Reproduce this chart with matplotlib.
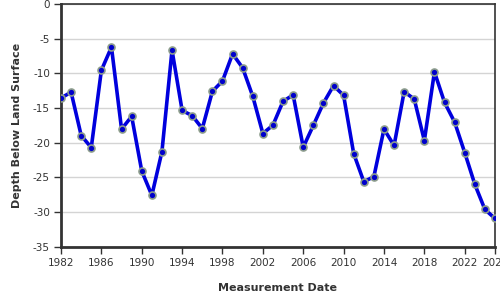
import matplotlib
matplotlib.use("Agg")
import matplotlib.pyplot as plt

# yearly measurements, depth below land surface
years = list(range(1982, 2026))
depth = [-13.55, -12.7, -18.96, -20.7, -9.54, -6.2, -18.04, -16.2, -24.08, -27.6,
         -21.3, -6.64, -15.34, -16.1, -17.95, -12.58, -11.09, -7.17, -9.2, -13.3,
         -18.67, -17.46, -14.03, -13.1, -20.65, -17.5, -14.28, -11.76, -13.16, -21.57,
         -25.63, -24.9, -18.04, -20.4, -12.63, -13.7, -19.69, -9.78, -14.18, -17.03,
         -21.43, -26.01, -29.64, -30.94]
xtick_years = [1982, 1986, 1990, 1994, 1998, 2002, 2006, 2010, 2014, 2018, 2022, 2025]
yticks = [0, -5, -10, -15, -20, -25, -30, -35]

TXT = "#333333"

fig = plt.figure(figsize=(5, 3), dpi=100)
ax = fig.add_axes([0.122, 0.178, 0.868, 0.808])

ax.plot(years, depth, color="#0000dd", lw=2.6, zorder=3,
        marker="o", ms=5, mfc="#0000cc", mec="#8c9c8c", mew=1.2)

ax.set_xlim(1982, 2025)
ax.set_ylim(-35, 0)
ax.set_xticks(xtick_years)
ax.set_yticks(yticks)
ax.set_xticklabels([str(y) for y in xtick_years], fontsize=7.5, color=TXT)
ax.set_yticklabels([str(v) for v in yticks], fontsize=7.5, color=TXT)
ax.tick_params(length=5, width=1, color=TXT, pad=3)
ax.grid(axis="y", color="#d4d4d4", lw=1)
ax.set_axisbelow(True)

for side in ["left", "bottom"]:
    ax.spines[side].set_linewidth(2)
    ax.spines[side].set_color(TXT)
for side in ["top", "right"]:
    ax.spines[side].set_linewidth(1.2)
    ax.spines[side].set_color(TXT)

ax.set_xlabel("Measurement Date", fontsize=8, fontweight="bold", color=TXT, labelpad=11)
ax.set_ylabel("Depth Below Land Surface", fontsize=8, fontweight="bold", color=TXT, labelpad=8)

fig.savefig("out.png", dpi=100)
